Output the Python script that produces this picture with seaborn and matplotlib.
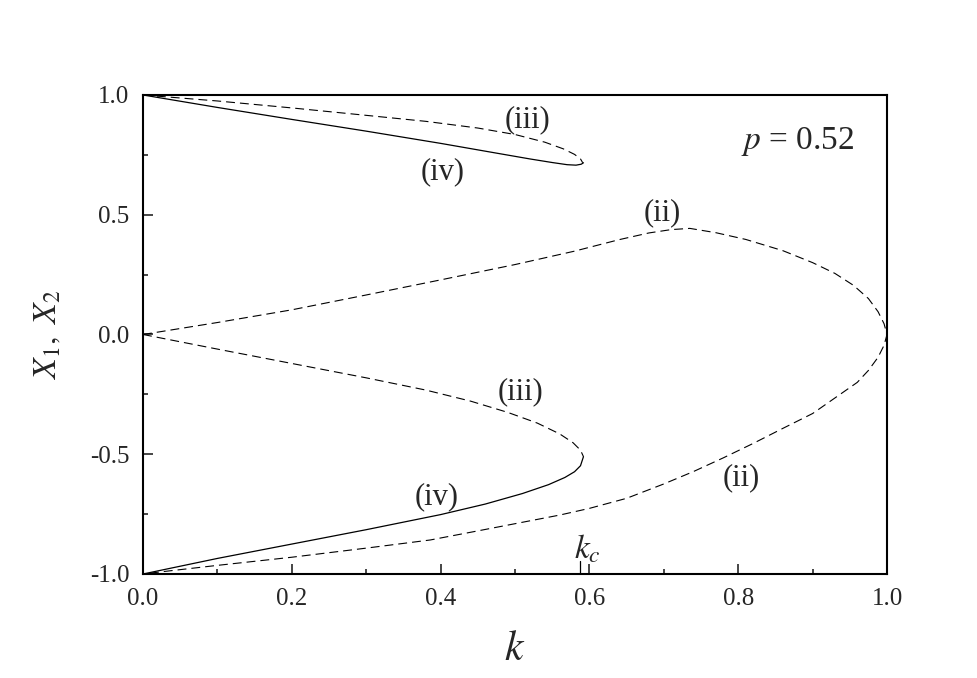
import matplotlib
matplotlib.use("Agg")
import matplotlib.pyplot as plt
from matplotlib.ticker import MultipleLocator
import seaborn as sns

# branch (ii): dashed, from (0,0) round the right tip at k=1 down to (0,-1)
k_ii = [0.0, 0.1, 0.2, 0.3, 0.4, 0.5, 0.58, 0.64, 0.68, 0.71, 0.735, 0.77, 0.81,
        0.86, 0.9, 0.93, 0.955, 0.975, 0.988, 0.996, 1.0,
        0.996, 0.988, 0.975, 0.96, 0.93, 0.9, 0.86, 0.82, 0.78, 0.74, 0.7, 0.65,
        0.6, 0.56, 0.5, 0.45, 0.386, 0.3, 0.2, 0.1, 0.027, 0.0]
x_ii = [0.0, 0.05, 0.103, 0.165, 0.228, 0.292, 0.348, 0.396, 0.424, 0.438, 0.443,
        0.425, 0.397, 0.350, 0.300, 0.255, 0.205, 0.150, 0.095, 0.045, 0.0,
        -0.045, -0.095, -0.150, -0.200, -0.265, -0.330, -0.392, -0.455, -0.515,
        -0.572, -0.624, -0.684, -0.726, -0.754, -0.790, -0.820, -0.858, -0.892,
        -0.930, -0.964, -0.990, -1.0]

# branch (iii): dashed, upper and lower pieces
k_iii_up = [0.0, 0.1, 0.2, 0.3, 0.38, 0.45, 0.5, 0.54, 0.565, 0.58, 0.588, 0.591]
x_iii_up = [1.0, 0.975, 0.946, 0.915, 0.890, 0.862, 0.835, 0.803, 0.775, 0.752,
            0.733, 0.717]
k_iii_lo = [0.0, 0.1, 0.2, 0.3, 0.38, 0.44, 0.49, 0.53, 0.56, 0.578, 0.588, 0.592]
x_iii_lo = [0.0, -0.061, -0.121, -0.181, -0.232, -0.278, -0.325, -0.370, -0.415,
            -0.452, -0.483, -0.51]

# branch (iv): solid, upper and lower pieces
k_iv_up = [0.0, 0.1, 0.2, 0.3, 0.4, 0.47, 0.52, 0.55, 0.57, 0.582, 0.589, 0.592]
x_iv_up = [1.0, 0.948, 0.898, 0.849, 0.798, 0.760, 0.733, 0.718, 0.709, 0.707,
           0.711, 0.717]
k_iv_lo = [0.0, 0.1, 0.2, 0.3, 0.4, 0.46, 0.51, 0.545, 0.567, 0.58, 0.588, 0.592]
x_iv_lo = [-1.0, -0.935, -0.875, -0.815, -0.752, -0.708, -0.664, -0.627, -0.597,
           -0.573, -0.548, -0.51]

k_c = 0.587
p_value = 0.52

sns.set_style("ticks")
plt.rcParams["font.family"] = ["Liberation Serif", "DejaVu Serif"]
plt.rcParams["mathtext.fontset"] = "stix"
plt.rcParams["axes.unicode_minus"] = False

fig = plt.figure(figsize=(9.77, 6.78), dpi=100)
ax = fig.add_axes([0.1464, 0.1534, 0.7615, 0.7065])

dash_kw = dict(color="black", linewidth=0.8, dashes=(8, 4.5), sort=False, estimator=None)
solid_kw = dict(color="black", linewidth=0.9, sort=False, estimator=None)

sns.lineplot(x=k_ii, y=x_ii, ax=ax, **dash_kw)
sns.lineplot(x=k_iii_up, y=x_iii_up, ax=ax, **dash_kw)
sns.lineplot(x=k_iii_lo, y=x_iii_lo, ax=ax, **dash_kw)
sns.lineplot(x=k_iv_up, y=x_iv_up, ax=ax, **solid_kw)
sns.lineplot(x=k_iv_lo, y=x_iv_lo, ax=ax, **solid_kw)

# marker for k_c on the bottom axis
ax.axvline(k_c, ymin=0, ymax=0.028, color="black", linewidth=0.9)

ax.set_xlim(0.0, 1.0)
ax.set_ylim(-1.0, 1.0)
ax.set_xticks([0.0, 0.2, 0.4, 0.6, 0.8, 1.0])
ax.set_yticks([-1.0, -0.5, 0.0, 0.5, 1.0])
ax.xaxis.set_minor_locator(MultipleLocator(0.1))
ax.yaxis.set_minor_locator(MultipleLocator(0.25))
ax.set_xticklabels(["0.0", "0.2", "0.4", "0.6", "0.8", "1.0"])
ax.set_yticklabels(["-1.0", "-0.5", "0.0", "0.5", "1.0"])
ax.tick_params(which="both", direction="in", top=False, right=False, width=1.2)
ax.tick_params(which="major", length=7, labelsize=18, pad=10)
ax.tick_params(which="minor", length=3.5)
for s in ax.spines.values():
    s.set_linewidth(1.5)
    s.set_color("black")

ax.set_xlabel("$k$", fontsize=30, labelpad=15)
ax.set_ylabel(r"$X_1,\ X_2$", fontsize=24, labelpad=19)

lab = dict(fontsize=22, ha="center", va="center")
ax.text(0.517, 0.896, "(iii)", **lab)
ax.text(0.403, 0.678, "(iv)", **lab)
ax.text(0.698, 0.507, "(ii)", **lab)
ax.text(0.507, -0.240, "(iii)", **lab)
ax.text(0.804, -0.599, "(ii)", **lab)
ax.text(0.395, -0.678, "(iv)", **lab)
ax.text(0.880, 0.804, "$p$ = %.2f" % p_value, fontsize=24, ha="center", va="center")
ax.text(0.597, -0.895, "$k_c$", fontsize=24, ha="center", va="center")

fig.savefig("out.png", dpi=100)
